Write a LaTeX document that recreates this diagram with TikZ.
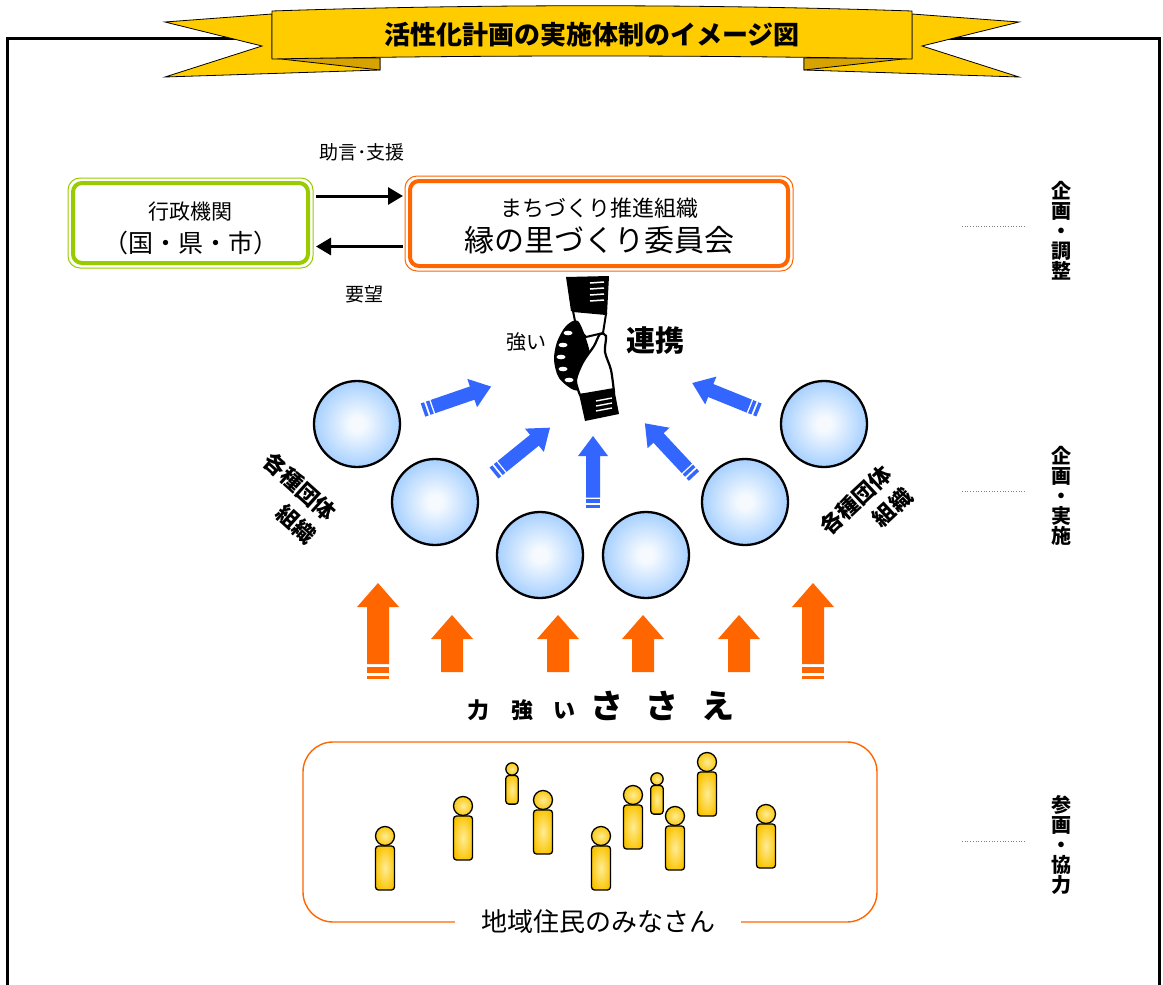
\documentclass[tikz,border=0pt]{standalone}
\usepackage{fontspec}
\setmainfont{Noto Sans CJK JP}
\usetikzlibrary{positioning,calc,arrows.meta}

\definecolor{ribbongold}{RGB}{255,204,0}
\definecolor{ribbonfold}{RGB}{214,163,0}
\definecolor{govgreen}{RGB}{153,204,0}
\definecolor{commorange}{RGB}{255,102,0}
\definecolor{flowblue}{RGB}{51,102,255}
\definecolor{groupblue}{RGB}{128,186,255}
\definecolor{groupmid}{RGB}{178,214,255}
\definecolor{grouplight}{RGB}{246,250,255}
\definecolor{persongold}{RGB}{250,196,0}
\definecolor{personlight}{RGB}{255,236,150}
\definecolor{persondark}{RGB}{190,140,0}

\pgfdeclareradialshading{bubble}{\pgfpoint{0bp}{0bp}}{color(0bp)=(grouplight); color(4bp)=(grouplight); color(22bp)=(groupmid); color(36bp)=(groupblue); color(50bp)=(groupblue)}
\pgfdeclareradialshading{personshade}{\pgfpoint{0bp}{0bp}}{color(0bp)=(personlight); color(28bp)=(persongold); color(50bp)=(persondark)}

\newcommand{\jpsize}[1]{\fontsize{#1}{#1}\selectfont}

\tikzset{
  govbox/.style={draw=govgreen, line width=4pt, rounded corners=9pt, minimum width=235pt, minimum height=80pt},
  commbox/.style={draw=commorange, line width=4pt, rounded corners=9pt, minimum width=378pt, minimum height=85pt},
  group/.style={circle, draw=black, line width=2.3pt, minimum size=86pt, inner sep=0pt, shading=bubble},
  relation/.style={->, line width=3pt, >={Triangle[length=15pt,width=17pt]}},
  smalltext/.style={font=\jpsize{19}},
  grouplabel/.style={font=\bfseries\fontsize{22}{30}\selectfont, align=right, inner sep=0pt},
  sidelabel/.style={font=\bfseries\fontsize{20}{20}\selectfont, align=center, inner sep=0pt},
  leader/.style={gray, dotted, line width=0.7pt},
  pics/flowarrow/.style={code={
    \fill[flowblue] (0,-7) rectangle (3.5,7);
    \fill[flowblue] (5.5,-7) rectangle (9,7);
    \fill[flowblue] (10.5,-7) -- (52,-7) -- (52,-15) -- (72,0) -- (52,15) -- (52,7) -- (10.5,7) -- cycle;
  }},
  pics/supportarrow/.style={code={
    \fill[commorange] (-21,24) -- (0,0) -- (21,24) -- (11,24) -- (11,#1) -- (-11,#1) -- (-11,24) -- cycle;
  }},
  pics/supportstripes/.style={code={
    \fill[commorange] (-11,3) rectangle (11,9);
    \fill[commorange] (-11,12) rectangle (11,15);
  }},
  pics/person/.style={code={
    \shadedraw[shading=personshade, line width=1.3pt, rounded corners=3pt] (-9.5,10) rectangle (9.5,54);
    \shadedraw[shading=personshade, line width=1.3pt] (0,0) circle (9.5);
  }}
}

\begin{document}
\begin{tikzpicture}[x=1pt, y=-1pt]
\useasboundingbox[fill=white] (0,0) rectangle (1163,985);

% outer frame
\draw[line width=3pt, line join=miter] (7,985) -- (7,38) -- (1159,38) -- (1159,985);

% title ribbon
\filldraw[fill=ribbongold, line width=0.8pt] (272,14) -- (165,22) -- (262,46) -- (165,77) -- (380,70) -- (380,58) -- (272,58) -- cycle;
\filldraw[fill=ribbongold, line width=0.8pt] (912,14) -- (1019,22) -- (922,46) -- (1019,77) -- (804,70) -- (804,58) -- (912,58) -- cycle;
\filldraw[fill=ribbonfold, line width=0.8pt] (272,58) -- (380,58) -- (380,70) -- cycle;
\filldraw[fill=ribbonfold, line width=0.8pt] (912,58) -- (804,58) -- (804,70) -- cycle;
\filldraw[fill=ribbongold, line width=0.8pt] (272,11) .. controls (480,4) and (700,4) .. (912,11) -- (912,59) .. controls (700,55) and (480,55) .. (272,59) -- cycle;
\node[font=\bfseries\jpsize{26}] (title) at (592,35) {活性化計画の実施体制のイメージ図};

% administration and committee
\node[govbox] (gov) at (190.5,223) {};
\draw[govgreen, line width=1pt, rounded corners=12pt] (68,178) rectangle (313,268);
\node[font=\jpsize{21}] (govname) at (190.5,212) {行政機関};
\node[font=\jpsize{25}] (govsub) at (190.5,243) {（国・県・市）};

\node[commbox] (comm) at (599,223.5) {};
\draw[commorange, line width=1pt, rounded corners=12pt] (405,176) rectangle (793,271);
\node[font=\jpsize{22}] (commsub) at (599,208) {まちづくり推進組織};
\node[font=\jpsize{30}] (commname) at (599,240) {縁の里づくり委員会};

\draw[relation, shorten <=6pt, shorten >=5pt] ([yshift=27pt]gov.east) -- ([yshift=27pt]gov.east -| comm.west);
\draw[relation, shorten <=5pt, shorten >=6pt] ([yshift=-23pt]comm.west) -- ([yshift=-23pt]comm.west -| gov.east);
\node[smalltext] (advice) at (362,152) {助言･支援};
\node[smalltext] (request) at (364,294) {要望};

% handshake
\fill (566,277) -- (609,276) -- (607,314) -- (571,311) -- cycle;
\foreach \y in {283,289,295,301}
  \draw[white, line width=1.5pt] (590,\y) -- (604,\y-1);
\filldraw[fill=white, line width=2pt] (573,311) -- (606,314) -- (603,333) -- (586,337) -- (576,326) -- cycle;
\fill plot[smooth cycle] coordinates {(578,321) (566,326) (557,342) (554,360) (559,378) (574,390) (588,388) (592,368) (588,345)};
\foreach \x/\y in {568/333, 563/345, 561/357, 563/369, 569/380}
  \fill[white] (\x,\y) ellipse (4.5 and 2.3);
\filldraw[fill=white, line width=2.2pt] plot[smooth] coordinates {(580,395) (576,380) (583,362) (594,346) (600,334) (606,336) (605,352) (611,370) (614,392)} -- cycle;
\fill (579,394) -- (614,388) -- (619,414) -- (585,421) -- cycle;
\foreach \y in {400,405,410}
  \draw[white, line width=1.4pt] (596,\y+1) -- (612,\y-2);
\node[font=\jpsize{20}] (strong) at (526,342) {強い};
\node[font=\bfseries\jpsize{29}] (link) at (655,341) {連携};

% groups
\node[group] (grp1) at (357,424) {};
\node[group] (grp2) at (435,502) {};
\node[group] (grp3) at (540,555) {};
\node[group] (grp4) at (646,555) {};
\node[group] (grp5) at (745,502) {};
\node[group] (grp6) at (824,424) {};
\node[grouplabel, rotate=-42] (grpleft) at (290,498) {各種団体\\組織};
\node[grouplabel, rotate=43] (grpright) at (866,511) {各種団体\\組織};

\pic[rotate=19] at (423,410) {flowarrow};
\pic[rotate=39] at (494,473) {flowarrow};
\pic[rotate=90] at (593,508) {flowarrow};
\pic[rotate=133] at (694,476) {flowarrow};
\pic[rotate=158] at (759,410) {flowarrow};

% support from residents
\pic at (378,583) {supportarrow=81};
\pic at (378,664) {supportstripes};
\pic at (813,583) {supportarrow=81};
\pic at (813,664) {supportstripes};
\foreach \x in {452,558,643,739}
  \pic at (\x,615) {supportarrow=57};

\node[font=\bfseries\jpsize{22}, inner sep=0pt, anchor=base] (support) at (601,718)
  {力\hspace{22pt}強\hspace{20pt}い\hspace{15pt}{\jpsize{33}さ\hspace{23pt}さ\hspace{23pt}え}};

% residents
\draw[commorange, line width=1.4pt, rounded corners=30pt] (303,742) rectangle (877,922);
\node[font=\jpsize{26}, fill=white, inner xsep=26pt] (people) at (598,922) {地域住民のみなさん};
\foreach \x/\y/\s in {385/836/1, 463/806/1, 512/769/0.65, 543/800/1, 601/836/1, 633/795/1, 657/779/0.65, 675/816/1, 707/762/1, 766/814/1}
  \pic[scale=\s] at (\x,\y) {person};

% roles
\node[sidelabel] (plan) at (1061,231) {企\\画\\・\\調\\整};
\node[sidelabel] (act) at (1061,496) {企\\画\\・\\実\\施};
\node[sidelabel] (join) at (1061,845) {参\\画\\・\\協\\力};
\draw[leader] (962,226) -- (1025,226);
\draw[leader] (962,491) -- (1025,491);
\draw[leader] (962,841) -- (1025,841);
\end{tikzpicture}
\end{document}
